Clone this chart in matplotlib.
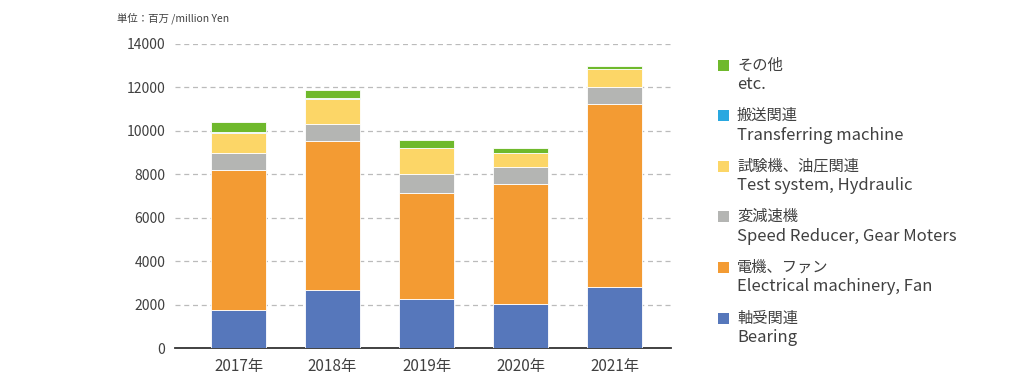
import numpy as np
import matplotlib.pyplot as plt
from matplotlib.patches import Rectangle

plt.rcParams['font.family'] = ['Noto Sans CJK JP', 'DejaVu Sans']

years = ['2017年', '2018年', '2019年', '2020年', '2021年']

# 単位：百万円
bearing = [1750, 2680, 2250, 2030, 2810]
electrical = [6450, 6840, 4900, 5530, 8440]
gear = [800, 780, 850, 780, 750]
test_sys = [900, 1150, 1200, 640, 830]
transfer = [50, 50, 10, 20, 10]
etc = [450, 400, 360, 200, 140]

series = [bearing, electrical, gear, test_sys, transfer, etc]
colors = ['#5677bb', '#f39b33', '#b4b5b3', '#fcd667', '#29a8e0', '#6fb92c']
labels_jp = ['軸受関連', '電機、ファン', '変減速機', '試験機、油圧関連', '搬送関連', 'その他']
labels_en = ['Bearing', 'Electrical machinery, Fan', 'Speed Reducer, Gear Moters',
             'Test system, Hydraulic', 'Transferring machine', 'etc.']

fig = plt.figure(figsize=(10.2, 3.85), dpi=100)
ax = fig.add_axes([175 / 1020, 37 / 385, 496 / 1020, 304 / 385])

x = np.arange(len(years))
bottom = np.zeros(len(years))
for vals, c in zip(series, colors):
    ax.bar(x, vals, 0.585, bottom=bottom, color=c, edgecolor='white',
           linewidth=0.6, zorder=3)
    bottom += np.array(vals)

ax.set_xlim(-0.676, 4.6)
ax.set_ylim(0, 14000)
ax.set_yticks(range(0, 14001, 2000))
ax.set_xticks(x)
ax.set_xticklabels(years)
ax.tick_params(axis='both', length=0, labelsize=10, colors='#404040')
ax.tick_params(axis='x', pad=7, labelsize=11)
ax.tick_params(axis='y', pad=7)
ax.grid(axis='y', color='#bbbbbb', linestyle=(0, (4, 3)), linewidth=0.9, zorder=0)
for s in ['top', 'right', 'left']:
    ax.spines[s].set_visible(False)
ax.spines['bottom'].set_color('#333333')
ax.spines['bottom'].set_linewidth(1.3)

fig.text(117 / 1020, 1 - 18 / 385, '単位：百万 /million Yen', fontsize=7.5,
         color='#404040', va='center', ha='left')

# legend (top to bottom: その他 ... 軸受関連)
top_y = 65
step = 50.6
for i, k in enumerate(range(len(series) - 1, -1, -1)):
    yj = top_y + i * step
    fig.patches.append(Rectangle((718 / 1020, 1 - (yj + 5.5) / 385), 11 / 1020, 11 / 385,
                                 transform=fig.transFigure, facecolor=colors[k],
                                 edgecolor='none'))
    fig.text(737 / 1020, 1 - yj / 385, labels_jp[k], fontsize=11,
             color='#404040', va='center', ha='left')
    fig.text(737 / 1020, 1 - (yj + 19.5) / 385, labels_en[k], fontsize=12,
             color='#404040', va='center', ha='left')

fig.savefig('out.png', dpi=100)
